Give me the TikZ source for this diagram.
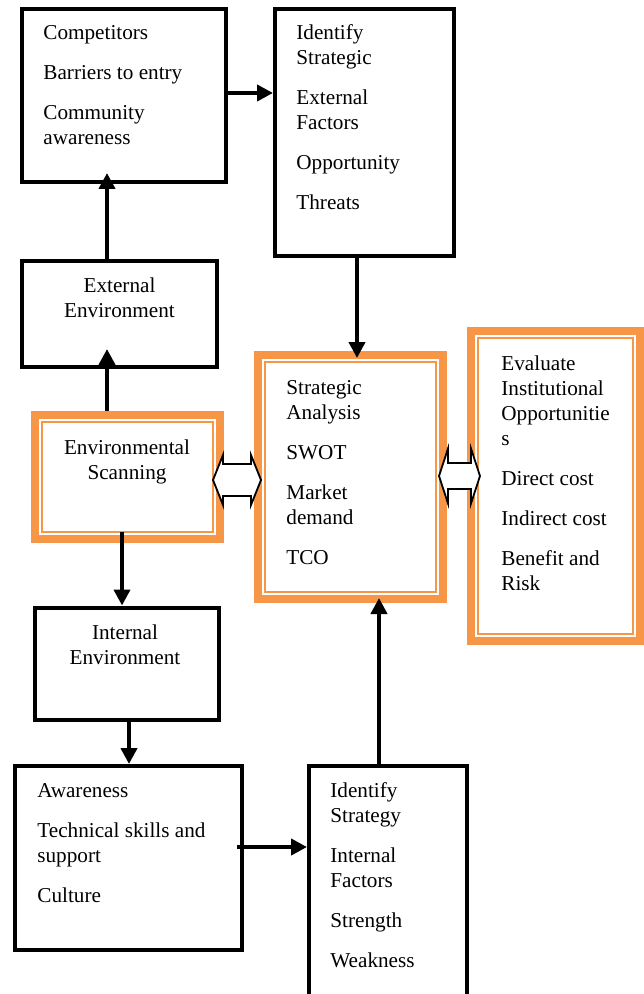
\documentclass[tikz,border=0pt]{standalone}
\usepackage{fontspec}
\setmainfont{Liberation Serif}
\usetikzlibrary{arrows.meta,calc}
\definecolor{accorange}{RGB}{247,150,70}
\begin{document}
\begin{tikzpicture}[x=0.5pt,y=-0.5pt,
  bbox/.style={draw=black, line width=2pt, anchor=north west, inner sep=0pt},
  obox/.style={draw=accorange, line width=4pt, anchor=north west, inner sep=0pt, fill=white},
  oinner/.style={draw=accorange, line width=1pt},
  txt/.style={anchor=north west, inner sep=0pt, text width=110pt, align=flush left,
    font=\fontsize{10.6}{12.5}\selectfont},
  ctxt/.style={anchor=north, inner sep=0pt, text width=110pt, align=flush center,
    font=\fontsize{10.6}{12.5}\selectfont},
  arr/.style={draw=black, line width=2pt, -{Triangle[length=8pt,width=8pt]}},
  dblarr/.style={draw=black, line width=0.9pt, fill=white}
]
\useasboundingbox[fill=white] (0,0) rectangle (643,994);

% black boxes
\node[bbox, minimum width=102pt, minimum height=86.5pt] (compet) at (20,7) {};
\node[bbox, minimum width=89.5pt, minimum height=123.5pt] (extfac) at (273,7) {};
\node[bbox, minimum width=97.5pt, minimum height=53pt] (extenv) at (20,259) {};
\node[bbox, minimum width=91.75pt, minimum height=56.25pt] (intenv) at (33,605.5) {};
\node[bbox, minimum width=113.5pt, minimum height=92pt] (intitems) at (13,764) {};
\node[bbox, minimum width=79pt, minimum height=115pt] (intfac) at (307,764) {};

% orange boxes
\node[obox, minimum width=92.5pt, minimum height=62pt] (scan) at (31,411) {};
\node[obox, minimum width=92.5pt, minimum height=122pt] (swot) at (254,351) {};
\node[obox, minimum width=84.5pt, minimum height=155pt] (evalu) at (467,327) {};
\foreach \b in {scan,swot,evalu}{
  \draw[oinner] ([xshift=5.5pt,yshift=-5.5pt]\b.north west) rectangle ([xshift=-5.5pt,yshift=5.5pt]\b.south east);
}

% texts
\node[txt] (tcompet) at (43,21.5) {\strut Competitors\\[7.5pt] Barriers to entry\\[7.5pt] Community\\ awareness};
\node[txt] (textfac) at (296,21.5) {\strut Identify\\ Strategic\\[7.5pt] External\\ Factors\\[7.5pt] Opportunity\\[7.5pt] Threats};
\node[ctxt] (textenv) at (119.5,274.5) {\strut External\\ Environment};
\node[ctxt] (tscan) at (127,436.5) {\strut Environmental\\ Scanning};
\node[txt] (tswot) at (286,376.5) {\strut Strategic\\ Analysis\\[7.5pt] SWOT\\[7.5pt] Market\\ demand\\[7.5pt] TCO};
\node[txt] (tevalu) at (501,352.5) {\strut Evaluate\\ Institutional\\ Opportunitie\\ s\\[7.5pt] Direct cost\\[7.5pt] Indirect cost\\[7.5pt] Benefit and\\ Risk};
\node[ctxt] (tintenv) at (125,621.5) {\strut Internal\\ Environment};
\node[txt] (tintitems) at (37,779.5) {\strut Awareness\\[7.5pt] Technical skills and\\ support\\[7.5pt] Culture};
\node[txt] (tintfac) at (330,779.5) {\strut Identify\\ Strategy\\[7.5pt] Internal\\ Factors\\[7.5pt] Strength\\[7.5pt] Weakness};

% arrows
\draw[arr] (compet.east |- 0,93) -- (extfac.west |- 0,93);
\draw[arr] (extenv.north -| 107,0) -- ($(compet.south -| 107,0)+(0,-11)$);
\draw[arr] (scan.north -| 107,0) -- ($(extenv.south -| 107,0)+(0,-20)$);
\draw[arr] ($(scan.south -| 122,0)+(0,-11)$) -- (intenv.north -| 122,0);
\draw[arr] (intenv.south -| 129,0) -- (intitems.north -| 129,0);
\draw[arr] ($(intitems.east |- 0,847)+(-7,0)$) -- (intfac.west |- 0,847);
\draw[arr] (intfac.north -| 379,0) -- ($(swot.south -| 379,0)+(0,-5)$);
\draw[arr] (extfac.south -| 357,0) -- ($(swot.north -| 357,0)+(0,7)$);

% double arrows
\draw[dblarr] (213,480) -- (223,455) -- (223,464) -- (251,464) -- (251,455) -- (261,480)
  -- (251,505) -- (251,496) -- (223,496) -- (223,505) -- cycle;
\draw[dblarr] (439,476) -- (448,448.5) -- (448,463) -- (471,463) -- (471,448.5) -- (480,476)
  -- (471,503.5) -- (471,489) -- (448,489) -- (448,503.5) -- cycle;
\end{tikzpicture}
\end{document}
